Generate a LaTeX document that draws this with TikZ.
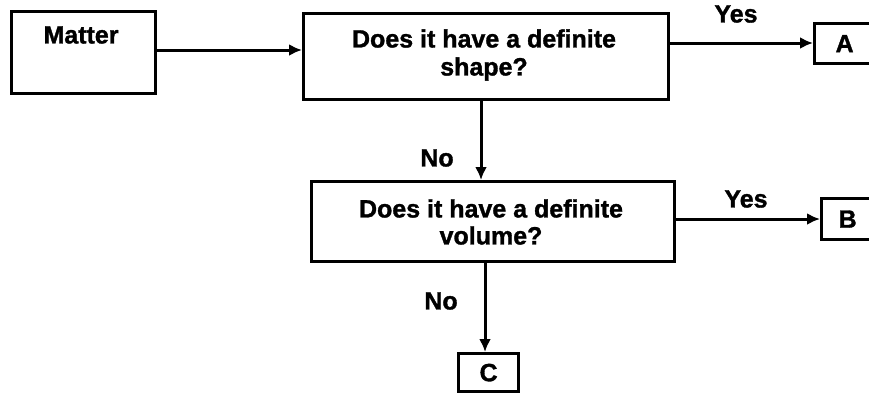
\documentclass[tikz,border=0pt]{standalone}
\usepackage{fontspec}
\setmainfont{Liberation Sans}
\newfontfamily\heavyfont[FakeBold=1.3]{Liberation Sans Bold}
\usetikzlibrary{arrows.meta}
\begin{document}
\begin{tikzpicture}[x=1pt,y=-1pt,
  box/.style={draw=black,line width=3.2pt,inner sep=0pt},
  lbl/.style={font=\fontsize{25}{28}\heavyfont},
  conn/.style={line width=3pt,-{Latex[length=13pt,width=12pt]}}]
\useasboundingbox (0,0) rectangle (869,392);
\node[box,minimum width=144pt,minimum height=82pt,anchor=north west] (matter) at (10,10) {};
\node[lbl] (mattertxt) at (81,35) {Matter};
\node[box,minimum width=365pt,minimum height=86pt,anchor=north west,align=center] (q1) at (302,12) {};
\node[lbl,align=center] (q1txt) at (484,55) {Does it have a definite\\shape?};
\node[box,minimum width=363pt,minimum height=80pt,anchor=north west] (q2) at (310,180) {};
\node[lbl,align=center] (q2txt) at (491,222) {Does it have a definite\\[-1pt]volume?};
\node[box,minimum width=60pt,minimum height=40pt,anchor=north west,lbl] (a) at (813,22) {A};
\node[box,minimum width=52pt,minimum height=41pt,anchor=north west,lbl] (b) at (820,197) {B};
\node[box,minimum width=60pt,minimum height=38pt,anchor=north west,lbl] (c) at (457,352) {C};
\coordinate (m1) at (154,50);
\coordinate (q1l) at (302,50);
\draw[conn] (m1) -- (q1l);
\coordinate (q1r) at (667,43);
\draw[conn] (q1r) -- (a.west |- q1r);
\node[lbl] (yes1) at (736,14) {Yes};
\coordinate (q1b) at (481,98);
\draw[conn] (q1b) -- (q1b |- q2.north);
\node[lbl] (no1) at (437,158) {No};
\coordinate (q2r) at (673,219);
\draw[conn] (q2r) -- (b.west |- q2r);
\node[lbl] (yes2) at (746,199) {Yes};
\coordinate (q2b) at (485,260);
\draw[conn] (q2b) -- (q2b |- c.north);
\node[lbl] (no2) at (441,301) {No};
\end{tikzpicture}
\end{document}
